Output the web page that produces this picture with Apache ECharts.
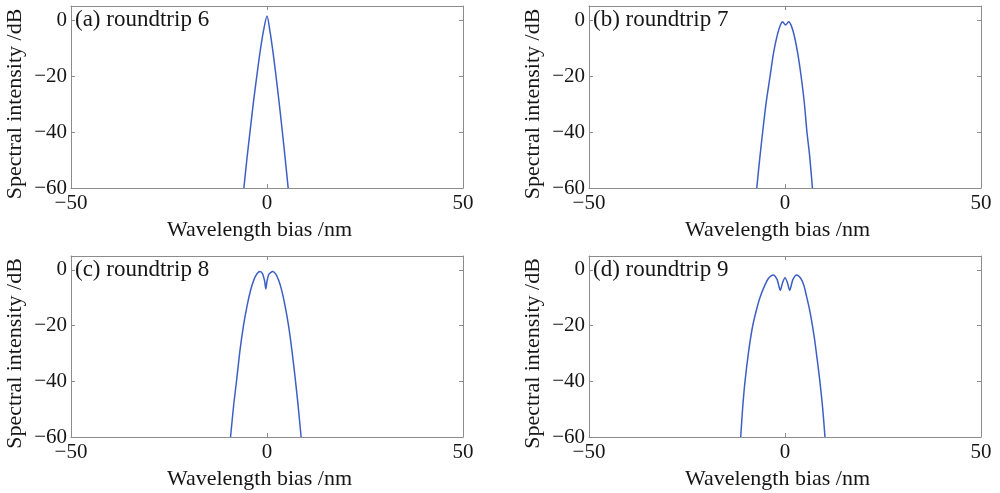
<!DOCTYPE html>
<html>
<head>
<meta charset="utf-8">
<script src="https://cdn.jsdelivr.net/npm/echarts@6/dist/echarts.min.js"></script>
<style>
  html, body { margin: 0; padding: 0; background: #ffffff; }
  #chart { width: 1000px; height: 493px; }
</style>
</head>
<body>
<div id="chart"></div>
<script>
// Axis ticks shared by all four panels
const xTicks = [-50, 0, 50];
const yTicks = [-60, -40, -20, 0];

const panelLabels = ['(a) roundtrip 6', '(b) roundtrip 7', '(c) roundtrip 8', '(d) roundtrip 9'];

// Wavelength bias (nm) and spectral intensity (dB) for each roundtrip
const bias6 = [-5.9, -5.1, -4.3, -3.4, -2.6, -1.8, -0.9, 0, 0.8, 1.6, 2.3, 3.0, 3.8, 4.6, 5.4];
const dB6   = [-60, -49.3, -39.5, -28.6, -20, -11.7, -3.9, 1.4, -4.4, -12.2, -20, -28.3, -38.4, -49, -60];

const bias7 = [-7.2, -6.5, -5.7, -4.8, -3.8, -2.9, -2.0, -1.2, -0.6, 0.15, 0.9, 1.6, 2.4, 3.3, 4.1, 4.9, 5.6, 6.3, 7.0];
const dB7   = [-60, -50.2, -40, -29.4, -20, -11.6, -5.6, -1.9, -0.6, -1.8, -0.6, -2.0, -5.8, -12.4, -20, -29.2, -40, -48.7, -60];

const bias8 = [-9.3, -8.5, -7.7, -6.9, -6.0, -5.1, -4.2, -3.3, -2.5, -1.8, -1.1, -0.6, -0.3, 0.0, 0.5, 1.45, 2.2, 3.0, 3.8, 4.6, 5.5, 6.4, 7.2, 7.9, 8.7];
const dB8   = [-60, -48.5, -39, -29, -20, -13, -7.4, -3.4, -1.3, -0.6, -1.5, -4, -6.8, -4, -1.5, -0.6, -1.4, -3.8, -7.6, -12.8, -20, -29.4, -39, -48.2, -60];

const bias9 = [-11.3, -10.8, -10.2, -9.3, -8.3, -7.4, -6.4, -5.3, -4.2, -3.0, -2.0, -1.2, -0.6, 0, 0.6, 1.2, 2.0, 3.0, 4.0, 4.8, 5.5, 6.3, 7.0, 7.6, 8.2, 8.9, 9.6, 10.2];
const dB9   = [-60, -49.5, -40, -29.5, -20.5, -15, -10, -6, -3, -1.8, -3.5, -7.3, -4.5, -2.8, -4.5, -7.3, -3.5, -1.8, -3, -5.5, -9.5, -14.5, -20, -25.5, -32, -40, -49.5, -60];

const panels = [[bias6, dB6], [bias7, dB7], [bias8, dB8], [bias9, dB9]];

const FONT = 'Liberation Serif';
const AXIS_GRAY = '#8c8c8c';
const LINE_BLUE = '#3d5fc4';
const TEXT = '#161616';

const gridBoxes = [
  { left: 71, top: 6, width: 392, height: 182 },
  { left: 589, top: 6, width: 392, height: 182 },
  { left: 71, top: 256, width: 392, height: 181 },
  { left: 589, top: 256, width: 392, height: 181 }
];

const minus = v => String(v).replace('-', '\u2212');

const grid = [], xAxis = [], yAxis = [], series = [], graphic = [];

panels.forEach((p, i) => {
  grid.push(Object.assign({ containLabel: false }, gridBoxes[i]));
  const lineStyle = { color: AXIS_GRAY, width: 1 };
  const tickStyle = { inside: true, length: 4, lineStyle: { color: AXIS_GRAY } };
  // bottom x axis with labels
  xAxis.push({
    type: 'value', gridIndex: i, min: -50, max: 50, position: 'bottom',
    name: 'Wavelength bias /nm', nameLocation: 'middle', nameGap: 31,
    nameTextStyle: { fontFamily: FONT, fontSize: 22, color: TEXT, padding: [0, 15, 0, 0] },
    axisLine: { show: true, onZero: false, lineStyle },
    axisTick: Object.assign({ customValues: xTicks }, tickStyle),
    axisLabel: { customValues: xTicks, formatter: minus, fontFamily: FONT, fontSize: 21, color: TEXT, margin: 5 },
    splitLine: { show: false }
  });
  // top mirror axis (ticks only)
  xAxis.push({
    type: 'value', gridIndex: i, min: -50, max: 50, position: 'top',
    axisLine: { show: true, onZero: false, lineStyle },
    axisTick: Object.assign({ customValues: xTicks }, tickStyle),
    axisLabel: { show: false }, splitLine: { show: false }
  });
  // left y axis with labels
  yAxis.push({
    type: 'value', gridIndex: i, min: -60, max: 5, position: 'left',
    name: 'Spectral intensity /dB', nameLocation: 'middle', nameGap: 45, nameRotate: 90,
    nameTextStyle: { fontFamily: FONT, fontSize: 22, color: TEXT, padding: [0, 14, 0, 0] },
    axisLine: { show: true, onZero: false, lineStyle },
    axisTick: Object.assign({ customValues: yTicks }, tickStyle),
    axisLabel: { customValues: yTicks, formatter: minus, fontFamily: FONT, fontSize: 21, color: TEXT, margin: 4 },
    splitLine: { show: false }
  });
  // right mirror axis (ticks only)
  yAxis.push({
    type: 'value', gridIndex: i, min: -60, max: 5, position: 'right',
    axisLine: { show: true, onZero: false, lineStyle },
    axisTick: Object.assign({ customValues: yTicks }, tickStyle),
    axisLabel: { show: false }, splitLine: { show: false }
  });

  series.push({
    type: 'line',
    xAxisIndex: i * 2, yAxisIndex: i * 2,
    data: p[0].map((x, k) => [x, p[1][k]]),
    smooth: 0.25,
    showSymbol: false,
    clip: true,
    lineStyle: { color: LINE_BLUE, width: 1.5 }
  });

  graphic.push({
    type: 'text',
    left: gridBoxes[i].left + 4,
    top: gridBoxes[i].top + 2,
    style: { text: panelLabels[i], font: '23px "' + FONT + '"', fill: TEXT }
  });
});

const chart = echarts.init(document.getElementById('chart'), null, { renderer: 'canvas' });
chart.setOption({
  backgroundColor: '#ffffff',
  animation: false,
  grid, xAxis, yAxis, series, graphic
});
</script>
</body>
</html>
